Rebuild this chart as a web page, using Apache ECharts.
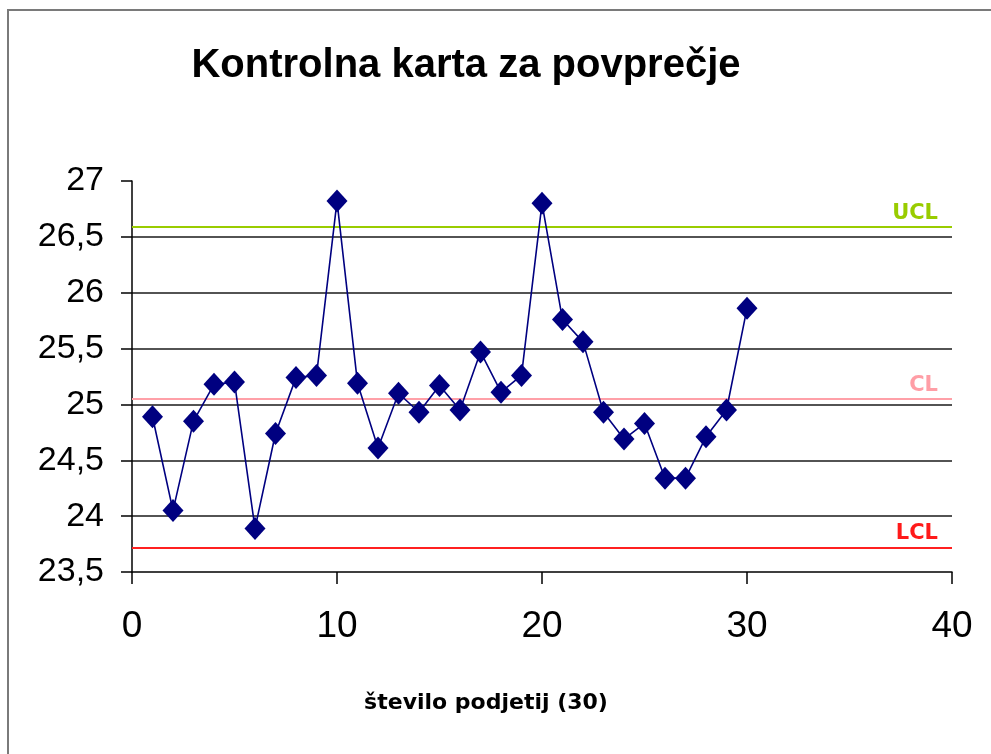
<!DOCTYPE html>
<html>
<head>
<meta charset="utf-8">
<script src="https://cdn.jsdelivr.net/npm/echarts@6/dist/echarts.min.js"></script>
<style>
html,body{margin:0;padding:0;background:#fff;}
#c{width:991px;height:754px;}
</style>
</head>
<body>
<div id="c"></div>
<script>
// Sample numbers 1..30
const samples = [1,2,3,4,5,6,7,8,9,10,11,12,13,14,15,16,17,18,19,20,21,22,23,24,25,26,27,28,29,30];
// Sample means
const means = [24.89,24.05,24.85,25.18,25.20,23.89,24.74,25.24,25.26,26.82,
               25.19,24.61,25.10,24.93,25.17,24.95,25.47,25.11,25.26,26.80,
               25.76,25.56,24.93,24.69,24.83,24.34,24.34,24.71,24.95,25.86];
// Control limits
const limitNames = ['UCL','CL','LCL'];
const limitValues = [26.59, 25.045, 23.72];
const limitColors = ['#99cc00','#ffa0a8','#ff2020'];
const limitTextColors = ['#99cc00','#ff9ea6','#ff1a1a'];
// Axis settings
const yTicks = [23.5,24,24.5,25,25.5,26,26.5,27];
const xTicks = [0,10,20,30,40];
const titleText = 'Kontrolna karta za povprečje';
const xAxisName = 'število podjetij (30)';

const chart = echarts.init(document.getElementById('c'), null, {renderer:'canvas'});
const pts = samples.map((s,i)=>[s, means[i]]);
const mlData = limitNames.map((n,i)=>({
  name:n, yAxis:limitValues[i],
  lineStyle:{color:limitColors[i], width:2, type:'solid'},
  label:{color:limitTextColors[i]}
}));

chart.setOption({
  backgroundColor:'#ffffff',
  animation:false,
  graphic:[{
    type:'rect', shape:{x:8, y:10, width:1100, height:900},
    style:{fill:'none', stroke:'#7a7a7a', lineWidth:2}, silent:true
  }],
  title:[{
    text:titleText, left:466, top:46, textAlign:'center', padding:0,
    textStyle:{fontFamily:'Liberation Sans, Arial', fontWeight:'bold', fontSize:40, color:'#000'}
  },{
    text:xAxisName, left:486, top:692, textAlign:'center', padding:0,
    textStyle:{fontFamily:'DejaVu Sans, Verdana', fontWeight:'bold', fontSize:22, color:'#000'}
  }],
  grid:{left:132, right:39, top:181, bottom:182, containLabel:false},
  xAxis:{
    type:'value', min:xTicks[0], max:xTicks[xTicks.length-1], interval:10,
    axisLine:{show:true, onZero:false, lineStyle:{color:'#000', width:1.5}},
    axisTick:{show:true, inside:false, length:12, lineStyle:{color:'#000', width:1.5}},
    splitLine:{show:false},
    axisLabel:{margin:36, color:'#000', fontFamily:'Liberation Sans, Arial', fontSize:37}
  },
  yAxis:{
    type:'value', min:yTicks[0], max:yTicks[yTicks.length-1], interval:0.5,
    axisLine:{show:true, onZero:false, lineStyle:{color:'#000', width:1.5}},
    axisTick:{show:true, inside:false, length:11, lineStyle:{color:'#000', width:1.5}},
    splitLine:{show:true, showMaxLine:false, showMinLine:false, lineStyle:{color:'#1a1a1a', width:1.5}},
    axisLabel:{margin:28, color:'#000', fontFamily:'Liberation Sans, Arial', fontSize:34,
      formatter:v=>String(v).replace('.',',')}
  },
  series:[{
    type:'line', data:pts,
    symbol:'diamond', symbolSize:[21,23],
    itemStyle:{color:'#000080'},
    lineStyle:{color:'#000080', width:1.6},
    z:5,
    markLine:{
      silent:true, symbol:'none', animation:false,
      label:{show:true, position:'insideEndTop', formatter:'{b}', distance:[14,3],
        fontFamily:'DejaVu Sans, Verdana', fontWeight:'bold', fontSize:21},
      data:mlData
    }
  }]
});
</script>
</body>
</html>
